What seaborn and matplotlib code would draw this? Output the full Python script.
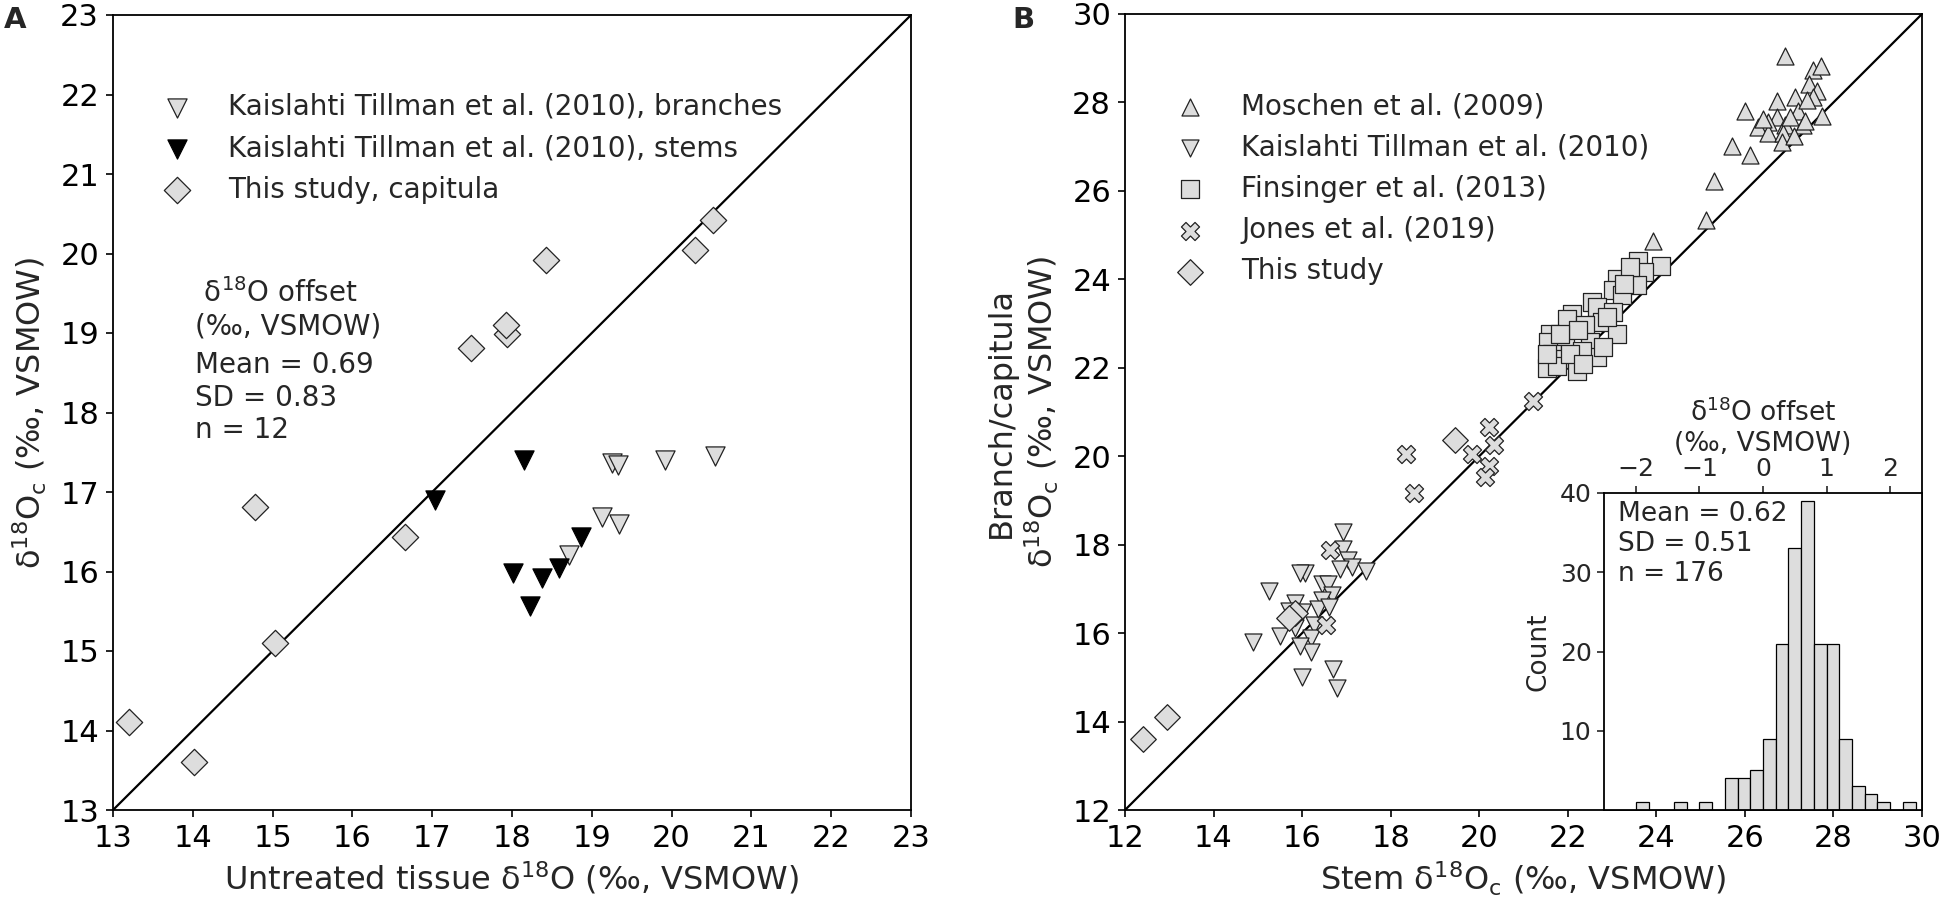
import numpy as np
import pandas as pd
import matplotlib
matplotlib.use("Agg")
import matplotlib.pyplot as plt
import seaborn as sns

# ---------------- data: panel A ----------------
a_branch_x = [18.72, 19.13, 19.34, 19.25, 19.33, 19.92, 20.55]
a_branch_y = [16.21, 16.68, 16.60, 17.36, 17.34, 17.40, 17.45]
a_stem_x = [17.03, 18.15, 18.01, 18.22, 18.37, 18.59, 18.86]
a_stem_y = [16.90, 17.40, 15.98, 15.56, 15.92, 16.04, 16.44]
a_cap_x = [13.20, 14.01, 14.78, 15.03, 16.66, 17.48, 17.94, 17.93, 18.42, 20.29, 20.52]
a_cap_y = [14.11, 13.60, 16.81, 15.10, 16.43, 18.81, 18.99, 19.10, 19.92, 20.05, 20.42]

# ---------------- data: panel B ----------------
mos_x = [26.90, 27.53, 27.72, 27.44, 27.63, 27.14, 27.53, 26.72, 26.01, 27.21, 27.74,
         26.72, 26.53, 26.30, 26.90, 27.32, 26.53, 26.87, 26.83, 25.72, 26.12, 25.31,
         25.12, 23.93, 26.41, 27.02, 27.40, 27.10, 27.36]
mos_y = [29.05, 28.73, 28.83, 28.42, 28.27, 28.12, 28.12, 28.03, 27.81, 27.81, 27.70,
         27.66, 27.55, 27.44, 27.48, 27.48, 27.31, 27.30, 27.10, 27.02, 26.82, 26.23,
         25.34, 24.86, 27.62, 27.66, 28.05, 27.25, 27.59]

kt_x = [16.92, 16.93, 17.04, 17.12, 17.44, 16.86, 16.07, 16.44, 16.59, 16.67, 16.44,
        15.84, 15.99, 16.27, 16.19, 16.19, 14.90, 15.50, 15.26, 16.00, 16.78, 16.69,
        15.96, 15.85, 16.35, 15.95, 16.60, 15.70]
kt_y = [18.29, 17.91, 17.65, 17.50, 17.41, 17.44, 17.36, 17.12, 17.10, 16.86, 16.74,
        16.68, 16.48, 16.18, 15.88, 15.58, 15.80, 15.93, 16.95, 15.00, 14.75, 15.19,
        15.70, 16.12, 16.55, 17.35, 16.60, 16.50]

fin_x = [23.59, 24.10, 23.73, 23.11, 23.56, 23.03, 23.22, 22.54, 22.65, 23.03, 22.09,
         21.98, 22.77, 22.39, 23.11, 21.60, 21.94, 22.50, 21.56, 21.64, 21.94, 22.65,
         21.52, 22.20, 21.75, 22.31, 22.88, 23.41, 23.26, 22.24, 21.83, 22.80, 21.52,
         22.05, 22.35]
fin_y = [24.41, 24.30, 24.17, 24.00, 23.87, 23.75, 23.64, 23.49, 23.37, 23.26, 23.21,
         23.11, 23.03, 22.96, 22.77, 22.77, 22.58, 22.58, 22.58, 22.32, 22.20, 22.24,
         22.00, 21.93, 22.04, 22.39, 23.14, 24.28, 23.90, 22.85, 22.77, 22.47, 22.32,
         22.32, 22.09]

jones_x = [21.22, 20.23, 20.33, 19.83, 20.22, 20.13, 18.34, 18.53, 16.63, 16.54]
jones_y = [21.24, 20.66, 20.26, 20.06, 19.77, 19.54, 20.06, 19.17, 17.87, 16.18]

ts_x = [12.40, 12.95, 15.85, 15.70, 19.45]
ts_y = [13.60, 14.10, 16.45, 16.35, 20.37]

# ---------------- data: inset histogram (offset, per mil) ----------------
offset_bin_left = [-2.0, -1.8, -1.6, -1.4, -1.2, -1.0, -0.8, -0.6, -0.4, -0.2, 0.0,
                   0.2, 0.4, 0.6, 0.8, 1.0, 1.2, 1.4, 1.6, 1.8, 2.0, 2.2]
offset_counts = [1, 0, 0, 1, 0, 1, 0, 4, 4, 5, 9, 21, 33, 39, 21, 21, 9, 3, 2, 1, 0, 1]
bin_width = 0.2

# ---------------- style ----------------
sns.set_style("ticks")
plt.rcParams["font.family"] = ["DejaVu Sans"]
plt.rcParams["axes.edgecolor"] = "black"
plt.rcParams["axes.linewidth"] = 1.3
plt.rcParams["mathtext.default"] = "regular"

GRAY = "#dddddd"
EDGE = "#222222"
TICK_FS = 22
LAB_FS = 23
LEG_FS = 20

fig = plt.figure(figsize=(19.5, 9.11), dpi=100)
ax_a = fig.add_axes([113 / 1950, 101 / 911, 798 / 1950, 795 / 911])
ax_b = fig.add_axes([1125 / 1950, 101 / 911, 797 / 1950, 796 / 911])

def style_axes(ax):
    for sp in ax.spines.values():
        sp.set_visible(True)
        sp.set_color("black")
        sp.set_linewidth(1.3)
    ax.tick_params(direction="out", length=5, width=1.2, labelsize=TICK_FS, pad=5,
                   colors="black")

# ---------------- panel A ----------------
ax_a.axline((13, 13), slope=1, color="black", lw=1.6, zorder=1)
sns.scatterplot(x=a_branch_x, y=a_branch_y, marker="v", s=190, color=GRAY,
                edgecolor=EDGE, linewidth=0.9, ax=ax_a, zorder=3,
                label="Kaislahti Tillman et al. (2010), branches")
sns.scatterplot(x=a_stem_x, y=a_stem_y, marker="v", s=190, color="black",
                edgecolor="black", linewidth=0.9, ax=ax_a, zorder=3,
                label="Kaislahti Tillman et al. (2010), stems")
sns.scatterplot(x=a_cap_x, y=a_cap_y, marker="D", s=180, color=GRAY,
                edgecolor=EDGE, linewidth=0.9, ax=ax_a, zorder=4,
                label="This study, capitula")
ax_a.set_xlim(13, 23)
ax_a.set_ylim(13, 23)
ax_a.set_xticks(range(13, 24))
ax_a.set_yticks(range(13, 24))
style_axes(ax_a)
ax_a.set_xlabel("Untreated tissue δ$^{18}$O (‰, VSMOW)", fontsize=LAB_FS, labelpad=5)
ax_a.set_ylabel("δ$^{18}$O$_{c}$ (‰, VSMOW)", fontsize=LAB_FS, labelpad=8)
ax_a.legend(loc="upper left", bbox_to_anchor=(0.063, 0.902), frameon=False,
            fontsize=LEG_FS, borderaxespad=0, borderpad=0, handlelength=1.0,
            handletextpad=1.34, labelspacing=0.48, scatterpoints=1)
ax_a.text(0.103, 0.669, " δ$^{18}$O offset\n(‰, VSMOW)", transform=ax_a.transAxes,
          fontsize=20, va="top", ha="left")
ax_a.text(0.103, 0.577, "Mean = 0.69\nSD = 0.83\nn = 12", transform=ax_a.transAxes,
          fontsize=20, va="top", ha="left")

# ---------------- panel B ----------------
ax_b.axline((12, 12), slope=1, color="black", lw=1.6, zorder=1)
sns.scatterplot(x=mos_x, y=mos_y, marker="^", s=150, color=GRAY, edgecolor=EDGE,
                linewidth=0.9, ax=ax_b, zorder=3, label="Moschen et al. (2009)")
sns.scatterplot(x=kt_x, y=kt_y, marker="v", s=150, color=GRAY, edgecolor=EDGE,
                linewidth=0.9, ax=ax_b, zorder=3, label="Kaislahti Tillman et al. (2010)")
sns.scatterplot(x=fin_x, y=fin_y, marker="s", s=150, color=GRAY, edgecolor=EDGE,
                linewidth=0.9, ax=ax_b, zorder=3, label="Finsinger et al. (2013)")
sns.scatterplot(x=jones_x, y=jones_y, marker="X", s=170, color=GRAY, edgecolor=EDGE,
                linewidth=0.9, ax=ax_b, zorder=4, label="Jones et al. (2019)")
sns.scatterplot(x=ts_x, y=ts_y, marker="D", s=170, color=GRAY, edgecolor=EDGE,
                linewidth=0.9, ax=ax_b, zorder=5, label="This study")
ax_b.set_xlim(12, 30)
ax_b.set_ylim(12, 30)
ax_b.set_xticks(range(12, 31, 2))
ax_b.set_yticks(range(12, 31, 2))
style_axes(ax_b)
ax_b.set_xlabel("Stem δ$^{18}$O$_{c}$ (‰, VSMOW)", fontsize=LAB_FS, labelpad=5)
ax_b.set_ylabel("Branch/capitula\nδ$^{18}$O$_{c}$ (‰, VSMOW)", fontsize=LAB_FS,
                labelpad=8)
ax_b.legend(loc="upper left", bbox_to_anchor=(0.064, 0.902), frameon=False,
            fontsize=LEG_FS, borderaxespad=0, borderpad=0, handlelength=1.0,
            handletextpad=1.34, labelspacing=0.48, scatterpoints=1)

# ---------------- inset histogram ----------------
ax_in = fig.add_axes([1604 / 1950, 101 / 911, 318 / 1950, 317 / 911])
ax_in.set_facecolor("white")
edges = list(offset_bin_left) + [offset_bin_left[-1] + bin_width]
centers = [b + bin_width / 2 for b in offset_bin_left]
sns.histplot(x=centers, weights=offset_counts, bins=edges, ax=ax_in, color=GRAY,
             edgecolor="black", linewidth=0.9, alpha=1.0)
ax_in.set_xlim(-2.5, 2.5)
ax_in.set_ylim(0, 40)
ax_in.set_xticks([-2, -1, 0, 1, 2])
ax_in.set_yticks([10, 20, 30, 40])
for sp in ax_in.spines.values():
    sp.set_visible(True)
    sp.set_color("black")
    sp.set_linewidth(1.3)
ax_in.xaxis.tick_top()
ax_in.xaxis.set_label_position("top")
ax_in.tick_params(direction="out", length=5, width=1.2, labelsize=18, pad=4)
ax_in.set_xlabel("δ$^{18}$O offset\n(‰, VSMOW)", fontsize=19, labelpad=4)
ax_in.set_ylabel("Count", fontsize=19, labelpad=6)
ax_in.text(0.045, 0.975, "Mean = 0.62\nSD = 0.51\nn = 176", transform=ax_in.transAxes,
           fontsize=19, va="top", ha="left")

# ---------------- panel letters ----------------
fig.text(0.002, 0.993, "A", fontsize=21, fontweight="bold", va="top", ha="left")
fig.text(1012 / 1950, 0.993, "B", fontsize=21, fontweight="bold", va="top", ha="left")

fig.savefig("out.png", dpi=100)
